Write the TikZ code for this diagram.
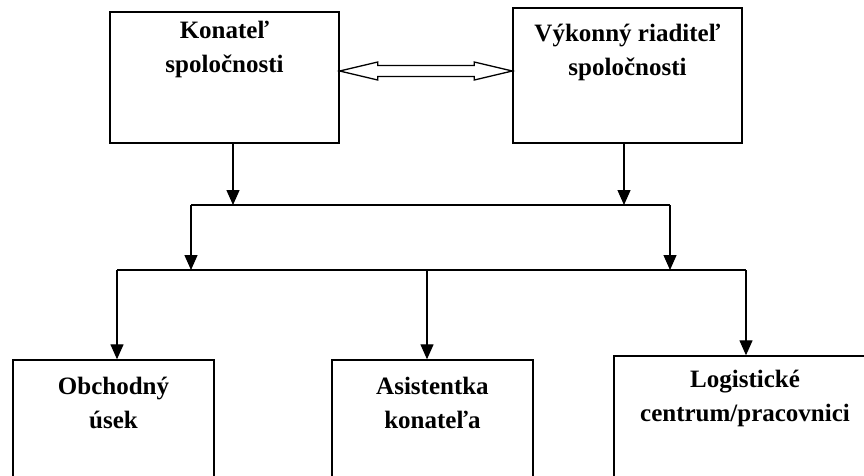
\documentclass[tikz,border=0pt]{standalone}
\usepackage{fontspec}
\setmainfont{Liberation Serif}
\usetikzlibrary{arrows.meta,positioning,calc}

\begin{document}
\begin{tikzpicture}[x=1pt, y=-1pt,
    block/.style={rectangle, draw, line width=1.4pt, inner sep=0pt},
    boxtext/.style={align=center, inner sep=0pt, font=\fontsize{25}{34}\selectfont\bfseries},
    link/.style={line width=1.3pt},
    arr/.style={link, -{Triangle[length=15pt, width=13pt]}},
    fat/.style={draw, fill=white, line width=1.3pt, line join=miter}]
    \useasboundingbox (0,0) rectangle (864,475);
    \clip (0,0) rectangle (864,475);
    % top level
    \node [block, minimum width=229, minimum height=131] (konatel) at (224.5,77.5) {};
    \node [block, minimum width=229, minimum height=135] (riaditel) at (627.5,75.5) {};
    \node [boxtext] (konatel-t) at ($(konatel.north)+(0,38)$) {Konateľ\\spoločnosti};
    \node [boxtext] (riaditel-t) at ($(riaditel.north)+(0,45)$) {Výkonný riaditeľ\\spoločnosti};
    % bottom level
    \node [block, minimum width=201, minimum height=160] (obchod) at (113.5,440) {};
    \node [block, minimum width=201, minimum height=160] (asist) at (432.5,440) {};
    \node [block, minimum width=262, minimum height=164] (logist) at (745,438) {};
    \node [boxtext] (obchod-t) at ($(obchod.north)+(0,44)$) {Obchodný\\úsek};
    \node [boxtext] (asist-t) at ($(asist.north)+(0,44)$) {Asistentka\\konateľa};
    \node [boxtext] (logist-t) at ($(logist.north)+(0,43)$) {Logistické\\centrum/pracovnici};
    % junctions
    \coordinate (mid) at (426,71);
    \coordinate (drop1) at (233,205);
    \coordinate (drop2) at (624,205);
    \coordinate (bus1w) at (191,205);
    \coordinate (bus1e) at (670,205);
    \coordinate (bus2w) at (117,270);
    \coordinate (bus2m) at (427,270);
    \coordinate (bus2e) at (746,270);
    % double arrow
    \coordinate (dl) at (konatel.east |- mid);
    \coordinate (dr) at (riaditel.west |- mid);
    \draw[fat] (dl) -- ++(38,-9) -- ++(0,3.5) -- ($(dr)+(-38,-5.5)$) -- ++(0,-3.5) -- (dr)
        -- ++(-38,9) -- ++(0,-3.5) -- ($(dl)+(38,5.5)$) -- ++(0,3.5) -- cycle;
    \draw[arr] (konatel.south -| drop1) -- (drop1);
    \draw[arr] (riaditel.south -| drop2) -- (drop2);
    \draw[link] (bus1w) -- (bus1e);
    \draw[arr] (bus1w) -- (bus1w |- bus2w);
    \draw[arr] (bus1e) -- (bus1e |- bus2e);
    \draw[link] (bus2w) -- (bus2e);
    \draw[arr] (bus2w) -- (bus2w |- obchod.north);
    \draw[arr] (bus2m) -- (bus2m |- asist.north);
    \draw[arr] (bus2e) -- (bus2e |- logist.north);
\end{tikzpicture}
\end{document}
